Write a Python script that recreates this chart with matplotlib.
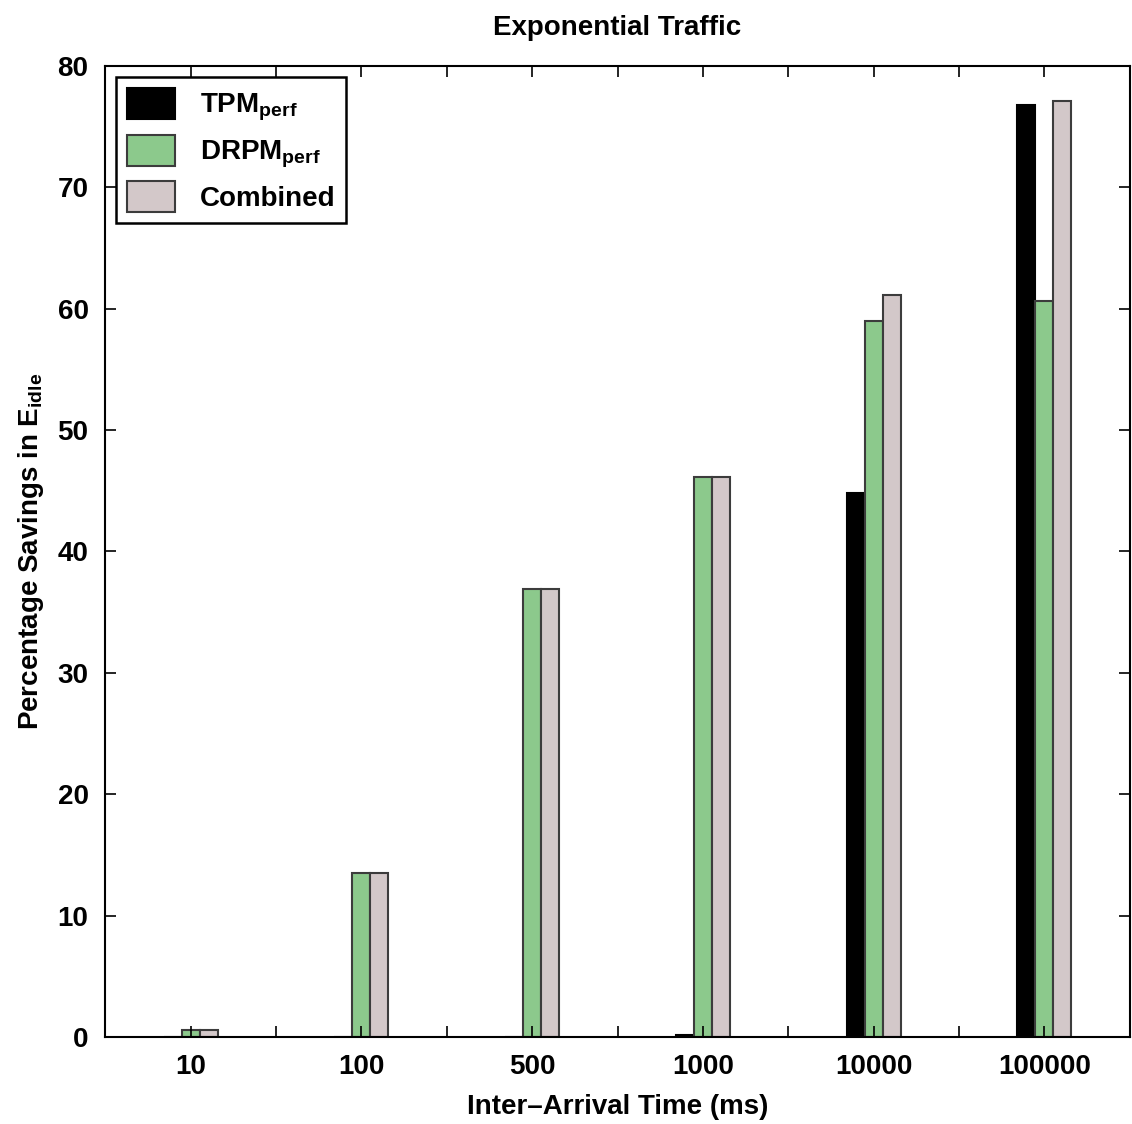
"""Exponential traffic: percentage savings in E_idle per inter-arrival time."""

import numpy as np
from matplotlib import pyplot as plt

categories = ["10", "100", "500", "1000", "10000", "100000"]
tpm_perf = [0.0, 0.0, 0.0, 0.15, 44.8, 76.8]
drpm_perf = [0.6, 13.5, 36.9, 46.1, 59.0, 60.6]
combined = [0.6, 13.5, 36.9, 46.1, 61.1, 77.1]
series_names = ["TPM$_{\\mathregular{perf}}$", "DRPM$_{\\mathregular{perf}}$", "Combined"]

plt.rcParams["font.family"] = ["Liberation Sans", "DejaVu Sans"]
plt.rcParams["font.weight"] = "bold"
plt.rcParams["mathtext.default"] = "regular"

fig = plt.figure(figsize=(11.32, 11.24), dpi=100)
ax = fig.add_axes([0.093, 0.0774, 0.905, 0.864])

x = np.arange(1, len(categories) + 1)
width = 0.105
colors = ["#000000", "#8cc98c", "#d3c8c9"]
edges = ["#000000", "#3c3c3c", "#3c3c3c"]
for i, (vals, name) in enumerate(zip([tpm_perf, drpm_perf, combined], series_names)):
    ax.bar(x + (i - 1) * width, vals, width, color=colors[i], edgecolor=edges[i],
           linewidth=1.5, label=name)

ax.set_xlim(0.5, 6.5)
ax.set_ylim(0, 80)
ax.set_xticks(x)
ax.set_xticklabels(categories)
ax.set_xticks(np.arange(1.5, 6.5, 1.0), minor=True)
ax.set_yticks(np.arange(0, 81, 10))
ax.tick_params(axis="both", which="both", direction="in", top=True, right=True,
               labelsize=20, length=8, width=1.2, pad=12)
for spine in ax.spines.values():
    spine.set_linewidth(1.5)

ax.set_xlabel("Inter\u2013Arrival Time (ms)", fontsize=20, fontweight="bold", labelpad=10)
ax.set_ylabel("Percentage Savings in E$_{\\mathregular{idle}}$", fontsize=20,
              fontweight="bold", labelpad=8)
ax.set_title("Exponential Traffic", fontsize=20, fontweight="bold", pad=22)

leg = ax.legend(loc="upper left", fontsize=20, fancybox=False, edgecolor="black",
                framealpha=1, borderaxespad=0.4, handlelength=1.7, handleheight=1.35,
                labelspacing=0.4, handletextpad=0.9)
leg.get_frame().set_linewidth(1.8)

fig.savefig("out.png", dpi=100)
